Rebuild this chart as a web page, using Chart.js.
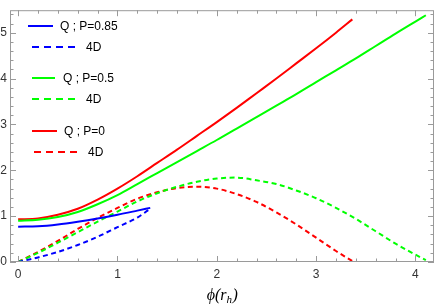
<!DOCTYPE html>
<html>
<head>
<meta charset="utf-8">
<script src="https://cdn.jsdelivr.net/npm/chart.js@4.4.1/dist/chart.umd.min.js"></script>
<style>
  html, body { margin: 0; padding: 0; background: #fff; }
  #wrap { width: 436px; height: 305px; }
</style>
</head>
<body>
<div id="wrap"><canvas id="plot"></canvas></div>
<script>
// values
var xBlueQ  = [0, 0.2, 0.4, 0.6, 0.8, 1.0, 1.2, 1.33];
var yBlueQ  = [0.77, 0.78, 0.82, 0.88, 0.95, 1.03, 1.12, 1.18];
var xBlue4D = [0, 0.2, 0.4, 0.6, 0.8, 1.0, 1.2, 1.31];
var yBlue4D = [0, 0.10, 0.22, 0.37, 0.55, 0.76, 0.97, 1.13];

var xGreenQ  = [0, 0.2, 0.4, 0.6, 0.8, 1.0, 1.2, 1.4, 1.6, 1.8, 2.0, 2.2, 2.4, 2.6, 2.8, 3.0, 3.2, 3.4, 3.6, 3.8, 4.0, 4.105];
var yGreenQ  = [0.90, 0.92, 0.98, 1.09, 1.26, 1.46, 1.70, 1.94, 2.18, 2.42, 2.66, 2.91, 3.16, 3.41, 3.66, 3.92, 4.18, 4.44, 4.71, 4.98, 5.24, 5.38];
var xGreen4D = [0, 0.2, 0.4, 0.6, 0.8, 1.0, 1.2, 1.4, 1.6, 1.8, 2.0, 2.2, 2.4, 2.6, 2.8, 3.0, 3.2, 3.4, 3.6, 3.8, 4.0, 4.105];
var yGreen4D = [0, 0.20, 0.42, 0.65, 0.88, 1.10, 1.32, 1.50, 1.64, 1.75, 1.82, 1.84, 1.78, 1.70, 1.56, 1.39, 1.18, 0.94, 0.67, 0.40, 0.16, 0.04];

var xRedQ  = [0, 0.2, 0.4, 0.6, 0.8, 1.0, 1.2, 1.4, 1.6, 1.8, 2.0, 2.2, 2.4, 2.6, 2.8, 3.0, 3.2, 3.365];
var yRedQ  = [0.93, 0.95, 1.03, 1.16, 1.36, 1.60, 1.87, 2.16, 2.45, 2.75, 3.05, 3.36, 3.68, 4.00, 4.33, 4.66, 5.00, 5.29];
var xRed4D = [0, 0.2, 0.4, 0.6, 0.8, 1.0, 1.2, 1.4, 1.6, 1.8, 2.0, 2.2, 2.4, 2.6, 2.8, 3.0, 3.2, 3.365];
var yRed4D = [0, 0.22, 0.46, 0.72, 0.96, 1.18, 1.38, 1.52, 1.61, 1.64, 1.60, 1.48, 1.31, 1.08, 0.82, 0.53, 0.24, 0.02];

var xTicks = [0, 1, 2, 3, 4];
var yTicks = [0, 1, 2, 3, 4, 5];
var legendLabels = ['Q ; P=0.85', '4D', 'Q ; P=0.5', '4D', 'Q ; P=0', '4D'];

var BLUE = 'rgb(0,0,255)', GREEN = 'rgb(0,255,0)', RED = 'rgb(255,0,0)';
var FRAME = '#9a9a9a';

function pts(xs, ys) {
  return xs.map(function (x, i) { return { x: x, y: ys[i] }; });
}

function series(label, xs, ys, color, dashed) {
  return {
    label: label,
    data: pts(xs, ys),
    borderColor: color,
    borderWidth: 2,
    borderDash: dashed ? [5, 3.5] : [],
    showLine: true,
    pointRadius: 0,
    fill: false,
    cubicInterpolationMode: 'monotone'
  };
}

// Mathematica-like frame with inward ticks
var frameTicks = {
  id: 'frameTicks',
  afterDatasetsDraw: function (chart) {
    var ctx = chart.ctx, a = chart.chartArea;
    var xs = chart.scales.x, ys = chart.scales.y;
    ctx.save();
    ctx.strokeStyle = FRAME;
    ctx.lineWidth = 1;
    ctx.strokeRect(a.left + 0.5, a.top + 0.5, a.right - a.left - 1, a.bottom - a.top - 1);
    ctx.beginPath();
    var v, p, len;
    for (var i = 0; i <= 21; i++) {
      v = i * 0.2;
      if (v > xs.max) break;
      p = Math.round(xs.getPixelForValue(v)) + 0.5;
      len = (i % 5 === 0) ? 6 : 3.5;
      ctx.moveTo(p, a.bottom); ctx.lineTo(p, a.bottom - len);
      ctx.moveTo(p, a.top); ctx.lineTo(p, a.top + len);
    }
    for (var j = 0; j <= 27; j++) {
      v = j * 0.2;
      if (v > ys.max) break;
      p = Math.round(ys.getPixelForValue(v)) + 0.5;
      len = (j % 5 === 0) ? 6 : 3.5;
      ctx.moveTo(a.left, p); ctx.lineTo(a.left + len, p);
      ctx.moveTo(a.right, p); ctx.lineTo(a.right - len, p);
    }
    ctx.stroke();
    ctx.restore();
  }
};

// legend placed as in the figure, two columns of samples
var legendBox = {
  id: 'legendBox',
  afterDraw: function (chart) {
    var ctx = chart.ctx;
    var rows = [
      { x0: 28, x1: 53, y: 26, tx: 60, c: BLUE,  d: false },
      { x0: 32, x1: 76, y: 47, tx: 86, c: BLUE,  d: true },
      { x0: 32, x1: 55, y: 78, tx: 63, c: GREEN, d: false },
      { x0: 32, x1: 76, y: 99, tx: 86, c: GREEN, d: true },
      { x0: 32, x1: 57, y: 131, tx: 64, c: RED,  d: false },
      { x0: 34, x1: 78, y: 152, tx: 88, c: RED,  d: true }
    ];
    ctx.save();
    ctx.font = '12px "Liberation Sans", Arial, sans-serif';
    ctx.textBaseline = 'middle';
    rows.forEach(function (r, i) {
      ctx.beginPath();
      ctx.strokeStyle = r.c;
      ctx.lineWidth = 2;
      ctx.setLineDash(r.d ? [7, 5] : []);
      ctx.moveTo(r.x0, r.y);
      ctx.lineTo(r.x1, r.y);
      ctx.stroke();
      ctx.fillStyle = '#000';
      ctx.fillText(legendLabels[i], r.tx, r.y + 1);
    });
    ctx.restore();
  }
};

// axis title phi(r_h) with a real subscript
var axisTitle = {
  id: 'axisTitle',
  afterDraw: function (chart) {
    var ctx = chart.ctx;
    var big = 'italic 16px "Liberation Serif", "DejaVu Serif", serif';
    var small = 'italic 11px "Liberation Serif", "DejaVu Serif", serif';
    var up = 'ϕ(r', sub = 'h', close = ')';
    ctx.save();
    ctx.fillStyle = '#000';
    ctx.textBaseline = 'alphabetic';
    ctx.font = big;
    var w1 = ctx.measureText(up).width, w3 = ctx.measureText(close).width;
    ctx.font = small;
    var w2 = ctx.measureText(sub).width;
    var x = 222 - (w1 + w2 + w3) / 2, y = 300;
    ctx.font = big;
    ctx.fillText(up, x, y);
    ctx.font = small;
    ctx.fillText(sub, x + w1, y + 3);
    ctx.font = big;
    ctx.fillText(close, x + w1 + w2 + 0.5, y);
    ctx.restore();
  }
};

Chart.defaults.font.family = '"Liberation Sans", Arial, sans-serif';
Chart.defaults.font.size = 12;
Chart.defaults.color = '#333';

new Chart(document.getElementById('plot'), {
  type: 'scatter',
  data: {
    datasets: [
      series('Q ; P=0.85', xBlueQ, yBlueQ, BLUE, false),
      series('4D', xBlue4D, yBlue4D, BLUE, true),
      series('Q ; P=0.5', xGreenQ, yGreenQ, GREEN, false),
      series('4D', xGreen4D, yGreen4D, GREEN, true),
      series('Q ; P=0', xRedQ, yRedQ, RED, false),
      series('4D', xRed4D, yRed4D, RED, true)
    ]
  },
  options: {
    responsive: true,
    maintainAspectRatio: false,
    animation: false,
    devicePixelRatio: 1,
    layout: { padding: { top: 1, right: 2, left: 0, bottom: 0 } },
    plugins: { legend: { display: false }, tooltip: { enabled: false } },
    scales: {
      x: {
        type: 'linear',
        min: -0.082,
        max: 4.187,
        grid: { display: false, drawTicks: false },
        border: { display: false },
        afterFit: function (s) { s.height = 43; },
        afterBuildTicks: function (s) { s.ticks = xTicks.map(function (v) { return { value: v }; }); },
        ticks: { padding: 5, maxRotation: 0, callback: function (v) { return String(v); } }
      },
      y: {
        type: 'linear',
        min: 0,
        max: 5.49,
        grid: { display: false, drawTicks: false },
        border: { display: false },
        afterFit: function (s) { s.width = 10; },
        afterBuildTicks: function (s) { s.ticks = yTicks.map(function (v) { return { value: v }; }); },
        ticks: { padding: 3, callback: function (v) { return String(v); } }
      }
    }
  },
  plugins: [frameTicks, legendBox, axisTitle]
});
</script>
</body>
</html>
